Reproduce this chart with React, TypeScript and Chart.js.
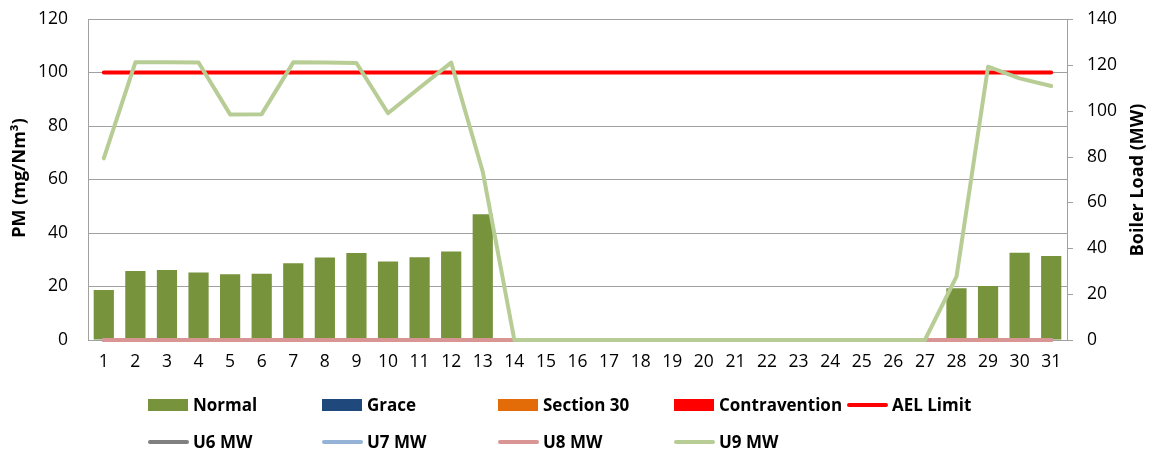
import React, { useEffect, useRef } from "react";
import { Chart, registerables } from "chart.js";

Chart.register(...registerables);

const days: string[] = Array.from({ length: 31 }, (_, i) => String(i + 1));

const normal: (number | null)[] = [
  18.7, 25.8, 26.2, 25.2, 24.6, 24.8, 28.7, 30.8, 32.5, 29.3, 30.9, 33.1, 47.0,
  null, null, null, null, null, null, null, null, null, null, null, null, null, null,
  19.3, 20.2, 32.6, 31.4,
];
const grace: (number | null)[] = days.map(() => null);
const section30: (number | null)[] = days.map(() => null);
const contravention: (number | null)[] = days.map(() => null);
const aelLimit: number[] = days.map(() => 100);

const u6: number[] = days.map(() => 0);
const u7: number[] = days.map(() => 0);
const u8: number[] = days.map(() => 0);
const u9: number[] = [
  79.2, 121.1, 121.1, 121.0, 98.4, 98.5, 121.1, 121.0, 120.8, 98.9, 110.0, 121.0, 73.4,
  0, 0, 0, 0, 0, 0, 0, 0, 0, 0, 0, 0, 0, 0,
  27.6, 119.2, 114.1, 110.8,
];

const leftTicks = { min: 0, max: 120, step: 20 };
const rightTicks = { min: 0, max: 140, step: 20 };

const C = {
  normal: "#77933C",
  grace: "#1F497D",
  section30: "#E36C09",
  contravention: "#FF0000",
  ael: "#FF0000",
  u6: "#808080",
  u7: "#95B3D7",
  u8: "#D99594",
  u9: "#B7CD95",
  grid: "#A0A0A0",
};

const legendRow1 = [
  { label: "Normal", color: C.normal, kind: "box", x: 148 },
  { label: "Grace", color: C.grace, kind: "box", x: 322 },
  { label: "Section 30", color: C.section30, kind: "box", x: 498 },
  { label: "Contravention", color: C.contravention, kind: "box", x: 674 },
  { label: "AEL Limit", color: C.ael, kind: "line", x: 847 },
];
const legendRow2 = [
  { label: "U6 MW", color: C.u6, kind: "line", x: 148 },
  { label: "U7 MW", color: C.u7, kind: "line", x: 322 },
  { label: "U8 MW", color: C.u8, kind: "line", x: 498 },
  { label: "U9 MW", color: C.u9, kind: "line", x: 674 },
];

const titlePlugin = {
  id: "axisTitles",
  afterDraw(chart: any) {
    const ctx = chart.ctx;
    ctx.save();
    // right-axis outward tick marks
    const s = chart.scales.y2;
    ctx.strokeStyle = C.grid;
    ctx.lineWidth = 1;
    ctx.beginPath();
    for (const t of s.ticks) {
      const y = Math.round(s.getPixelForValue(t.value)) + 0.5;
      ctx.moveTo(s.left, y);
      ctx.lineTo(s.left + 6, y);
    }
    ctx.stroke();

    ctx.fillStyle = "#000";
    ctx.font = "bold 18px 'Open Sans'";
    ctx.textAlign = "center";
    ctx.textBaseline = "middle";
    ctx.save();
    ctx.translate(20, 178);
    ctx.rotate(-Math.PI / 2);
    ctx.fillText("PM (mg/Nm³)", 0, 0);
    ctx.restore();
    ctx.save();
    ctx.translate(1138, 180);
    ctx.rotate(-Math.PI / 2);
    ctx.fillText("Boiler Load (MW)", 0, 0);
    ctx.restore();
    ctx.restore();
  },
};

function LegendItem({ item, cy }: { item: any; cy: number }) {
  return (
    <div
      style={{
        position: "absolute",
        left: item.x,
        top: cy,
        transform: "translateY(-50%)",
        display: "flex",
        alignItems: "center",
        whiteSpace: "nowrap",
      }}
    >
      {item.kind === "box" ? (
        <div style={{ width: 40, height: 12, background: item.color }} />
      ) : (
        <div style={{ width: 41, height: 4.5, borderRadius: 2.25, background: item.color }} />
      )}
      <span
        style={{
          marginLeft: item.kind === "box" ? 5 : 4,
          fontFamily: "'Open Sans', sans-serif",
          fontWeight: "bold",
          fontSize: 17,
          lineHeight: "22px",
          color: "#000",
        }}
      >
        {item.label}
      </span>
    </div>
  );
}

export default function App() {
  const ref = useRef<HTMLCanvasElement>(null);

  useEffect(() => {
    if (!ref.current) return;
    const tickFont = { family: "'Open Sans'", size: 17.5 };
    const lineDs = (label: string, data: number[], color: string, order: number, axis: string) => ({
      type: "line" as const,
      label,
      data,
      borderColor: color,
      backgroundColor: color,
      borderWidth: 4,
      pointRadius: 0,
      tension: 0,
      yAxisID: axis,
      order,
      clip: 6,
      borderCapStyle: "round" as const,
      borderJoinStyle: "round" as const,
    });
    const barDs = (label: string, data: (number | null)[], color: string, order: number) => ({
      type: "bar" as const,
      label,
      data,
      backgroundColor: color,
      borderWidth: 0,
      yAxisID: "y",
      grouped: false,
      barPercentage: 0.64,
      categoryPercentage: 1,
      order,
    });
    const chart = new Chart(ref.current, {
      type: "bar",
      data: {
        labels: days,
        datasets: [
          lineDs("U9 MW", u9, C.u9, 0, "y2"),
          lineDs("U8 MW", u8, C.u8, 1, "y2"),
          lineDs("U7 MW", u7, C.u7, 2, "y2"),
          lineDs("U6 MW", u6, C.u6, 3, "y2"),
          lineDs("AEL Limit", aelLimit, C.ael, 4, "y"),
          barDs("Contravention", contravention, C.contravention, 5),
          barDs("Section 30", section30, C.section30, 6),
          barDs("Grace", grace, C.grace, 7),
          barDs("Normal", normal, C.normal, 8),
        ] as any,
      },
      options: {
        animation: false,
        responsive: false,
        maintainAspectRatio: false,
        layout: { padding: { left: 0, right: 0, top: 19, bottom: 0 } },
        plugins: { legend: { display: false }, tooltip: { enabled: false } },
        scales: {
          x: {
            offset: true,
            grid: { display: false, drawTicks: false },
            border: { display: true, color: C.grid, width: 1 },
            ticks: { font: tickFont, color: "#000", padding: 12, maxRotation: 0, autoSkip: false },
            afterFit(scale: any) {
              scale.height = 455 - 340;
            },
          },
          y: {
            position: "left",
            min: leftTicks.min,
            max: leftTicks.max,
            ticks: { stepSize: leftTicks.step, font: tickFont, color: "#000", padding: 0 },
            grid: { color: C.grid, drawTicks: true, tickLength: 20, tickColor: "rgba(0,0,0,0)", lineWidth: 1 },
            border: { display: true, color: C.grid, width: 1 },
            afterFit(scale: any) {
              scale.width = 88;
            },
          },
          y2: {
            position: "right",
            min: rightTicks.min,
            max: rightTicks.max,
            ticks: { stepSize: rightTicks.step, font: tickFont, color: "#000", padding: 0 },
            grid: { drawOnChartArea: false, drawTicks: true, tickLength: 20, tickColor: "rgba(0,0,0,0)" },
            border: { display: true, color: C.grid, width: 1 },
            afterFit(scale: any) {
              scale.width = 1155 - 1067;
            },
          },
        },
      } as any,
      plugins: [titlePlugin],
    });
    return () => chart.destroy();
  }, []);

  return (
    <div style={{ position: "absolute", left: 0, top: 0, width: 1155, height: 455, background: "#fff" }}>
      <canvas ref={ref} width={1155} height={455} style={{ display: "block", width: 1155, height: 455 }} />
      {legendRow1.map((it) => (
        <LegendItem key={it.label} item={it} cy={405} />
      ))}
      {legendRow2.map((it) => (
        <LegendItem key={it.label} item={it} cy={442} />
      ))}
    </div>
  );
}
